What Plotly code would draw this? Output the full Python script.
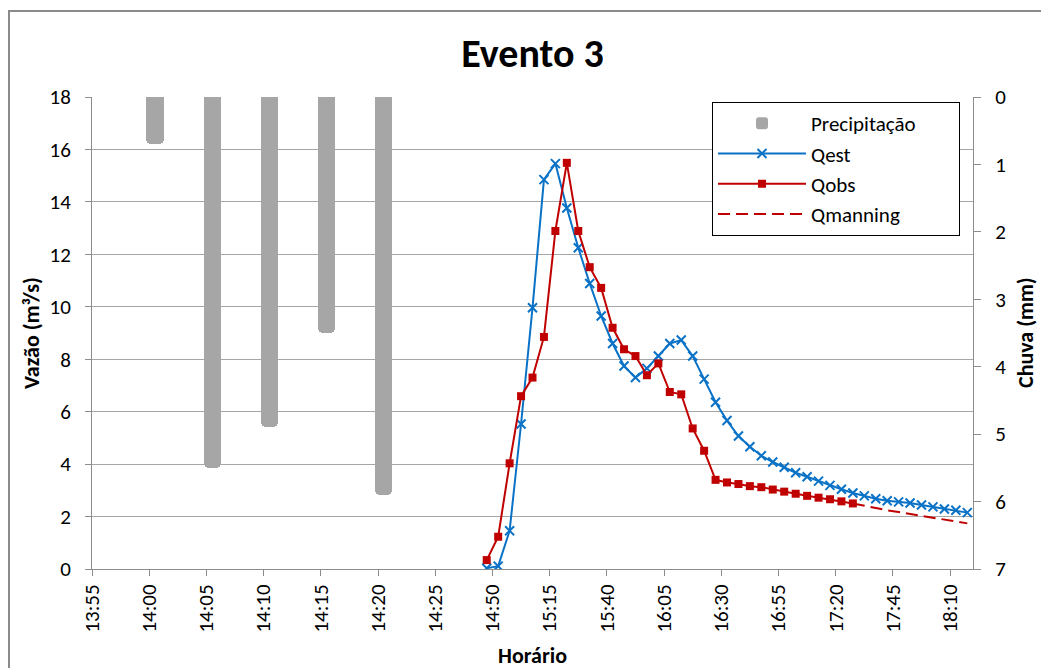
import plotly.graph_objects as go

# ---------------- data ----------------
# Excel-like category axis: 1-min categories 13:55..14:24, then 5-min categories 14:25..18:15
cats_fine = ["13:55", "13:56", "13:57", "13:58", "13:59", "14:00", "14:01", "14:02", "14:03", "14:04",
             "14:05", "14:06", "14:07", "14:08", "14:09", "14:10", "14:11", "14:12", "14:13", "14:14",
             "14:15", "14:16", "14:17", "14:18", "14:19", "14:20", "14:21", "14:22", "14:23", "14:24"]
cats_coarse = ["14:25", "14:30", "14:35", "14:40", "14:45", "14:50", "14:55", "15:00", "15:05", "15:10",
               "15:15", "15:20", "15:25", "15:30", "15:35", "15:40", "15:45", "15:50", "15:55", "16:00",
               "16:05", "16:10", "16:15", "16:20", "16:25", "16:30", "16:35", "16:40", "16:45", "16:50",
               "16:55", "17:00", "17:05", "17:10", "17:15", "17:20", "17:25", "17:30", "17:35", "17:40",
               "17:45", "17:50", "17:55", "18:00", "18:05", "18:10", "18:15"]
categories = cats_fine + cats_coarse

tick_labels = ["13:55", "14:00", "14:05", "14:10", "14:15", "14:20", "14:25", "14:50",
               "15:15", "15:40", "16:05", "16:30", "16:55", "17:20", "17:45", "18:10"]

precip_time = ["14:00", "14:05", "14:10", "14:15", "14:20"]
precip_mm = [0.7, 5.5, 4.9, 3.5, 5.9]

qest = [0.03, 0.11, 1.46, 5.53, 9.96, 14.85, 15.46, 13.77, 12.25, 10.89,
        9.65, 8.60, 7.74, 7.30, 7.65, 8.12, 8.60, 8.73, 8.12, 7.24,
        6.36, 5.66, 5.07, 4.66, 4.32, 4.08, 3.88, 3.67, 3.52, 3.35,
        3.19, 3.04, 2.90, 2.79, 2.68, 2.60, 2.56, 2.52, 2.44, 2.37,
        2.29, 2.24, 2.15]
qest_time = cats_coarse[4:4 + len(qest)]

qobs = [0.34, 1.23, 4.03, 6.59, 7.30, 8.85, 12.89, 15.49, 12.89, 11.51,
        10.72, 9.20, 8.38, 8.12, 7.39, 7.84, 6.75, 6.66, 5.36, 4.51,
        3.40, 3.30, 3.24, 3.16, 3.12, 3.03, 2.95, 2.87, 2.79, 2.72,
        2.66, 2.58, 2.50]
qobs_time = cats_coarse[4:4 + len(qobs)]

qmanning = [2.50, 2.41, 2.32, 2.24, 2.17, 2.10, 2.04, 1.97, 1.89, 1.82, 1.74]
qmanning_time = cats_coarse[36:36 + len(qmanning)]

# ---------------- styling ----------------
FONT = "Carlito, Lato, sans-serif"
BLUE = "#0a72c6"
RED = "#c00000"
GRAY_BAR = "#a6a6a6"
AXIS = "#8c8c8c"
GRID = "#a6a6a6"
PAD = "\u00a0" * 8  # extra right padding inside the legend box

pos = {c: i for i, c in enumerate(categories)}

fig = go.Figure()

fig.add_trace(go.Bar(
    x=[pos[t] for t in precip_time], y=precip_mm, yaxis="y2",
    name="Precipitação" + PAD, marker=dict(color=GRAY_BAR, line=dict(width=0), cornerradius=5),
    width=1.5,
))
fig.add_trace(go.Scatter(
    x=[pos[t] for t in qest_time], y=qest, name="Qest", mode="lines+markers",
    line=dict(color=BLUE, width=2),
    marker=dict(symbol="x-thin", size=9, color=BLUE, line=dict(color=BLUE, width=2)),
))
fig.add_trace(go.Scatter(
    x=[pos[t] for t in qmanning_time], y=qmanning, name="Qmanning", mode="lines",
    line=dict(color=RED, width=2, dash="12px,6px"), legendrank=1004,
))
fig.add_trace(go.Scatter(
    x=[pos[t] for t in qobs_time], y=qobs, name="Qobs", mode="lines+markers",
    line=dict(color=RED, width=2),
    marker=dict(symbol="square", size=8, color=RED), legendrank=1003,
))

# chart-area border (Excel chart frame)
L, R, T, B = 92, 68, 97, 99
W, H = 1041, 668
pw, ph = W - L - R, H - T - B
fig.add_shape(type="rect", xref="paper", yref="paper",
              x0=(9 - L) / pw, x1=(W + 5 - L) / pw,
              y0=(H - B - (H + 5)) / ph, y1=1 + (T - 11) / ph,
              line=dict(color="#8a8a8a", width=2), layer="below")

fig.update_layout(
    width=W, height=H,
    margin=dict(l=L, r=R, t=T, b=B),
    paper_bgcolor="white", plot_bgcolor="white",
    font=dict(family=FONT, size=21, color="#000000"),
    title=dict(text="<b>Evento 3</b>", x=(L + pw / 2) / W, xanchor="center",
               y=1 - 53 / H, yanchor="middle", font=dict(size=40, family=FONT, color="#000")),
    showlegend=True,
    legend=dict(x=(712 - L) / pw, xanchor="left", y=1 - (102 - T) / ph, yanchor="top",
                bordercolor="#000000", borderwidth=1, bgcolor="white",
                font=dict(size=21, family=FONT), itemwidth=88, tracegroupgap=0),
    bargap=0,
    xaxis=dict(
        range=[-0.5, len(categories) - 0.5],
        tickmode="array",
        tickvals=[pos[t] - 0.5 for t in tick_labels],
        ticktext=tick_labels,
        tickangle=-90,
        ticks="outside", ticklen=6, tickcolor=AXIS,
        showline=True, linecolor=AXIS, linewidth=1,
        showgrid=False, zeroline=False,
        tickfont=dict(size=21),
    ),
    yaxis=dict(
        range=[0, 18], dtick=2, tick0=0,
        ticks="outside", ticklen=6, tickcolor=AXIS,
        showline=True, linecolor=AXIS, linewidth=1,
        showgrid=True, gridcolor=GRID, gridwidth=1,
        zeroline=False, tickfont=dict(size=21), ticklabelstandoff=10,
    ),
    yaxis2=dict(
        overlaying="y", side="right",
        range=[7, 0], dtick=1, tick0=0,
        ticks="outside", ticklen=7, tickcolor=AXIS,
        showline=True, linecolor=AXIS, linewidth=1,
        showgrid=False, zeroline=False, tickfont=dict(size=21), ticklabelstandoff=10,
    ),
)

fig.add_annotation(text="<b>Vazão (m³/s)</b>", xref="paper", yref="paper",
                   x=(31 - L) / pw, y=0.5, textangle=-90, showarrow=False,
                   xanchor="center", yanchor="middle", font=dict(size=22, family=FONT))
fig.add_annotation(text="<b>Chuva (mm)</b>", xref="paper", yref="paper",
                   x=(1025 - L) / pw, y=0.5, textangle=-90, showarrow=False,
                   xanchor="center", yanchor="middle", font=dict(size=22, family=FONT))
fig.add_annotation(text="<b>Horário</b>", xref="paper", yref="paper",
                   x=0.5, y=(H - B - 655) / ph, showarrow=False,
                   xanchor="center", yanchor="middle", font=dict(size=22, family=FONT))

fig.write_html("out.html", config={"displayModeBar": False})

# remove the browser's default 8px body margin so the figure fills the window exactly
with open("out.html", "r", encoding="utf-8") as f:
    html = f.read()
html = html.replace("<body>", '<body style="margin:0;padding:0;overflow:hidden;">', 1)
with open("out.html", "w", encoding="utf-8") as f:
    f.write(html)
